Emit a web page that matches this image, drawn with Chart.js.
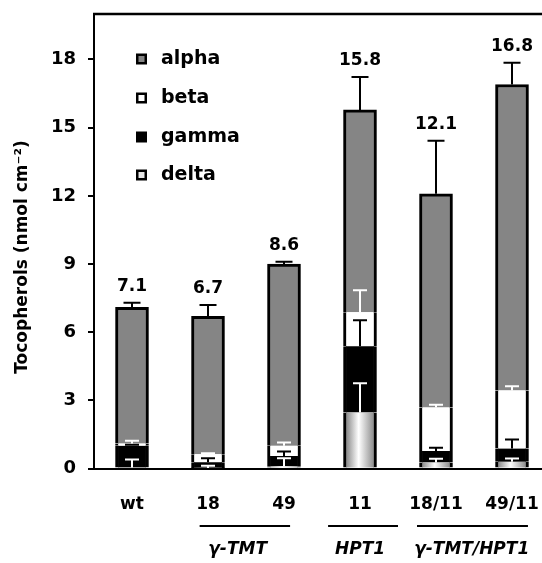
<!DOCTYPE html>
<html>
<head>
<meta charset="utf-8">
<script src="https://cdn.jsdelivr.net/npm/chart.js@4.4.0/dist/chart.umd.min.js"></script>
<style>
  html, body { margin: 0; padding: 0; background: #fff; overflow: hidden; }
  #wrap { width: 542px; height: 563px; overflow: hidden; position: relative; }
  #inner { position: absolute; left: 0; top: 0; width: 552px; height: 563px; }
</style>
</head>
<body>
<div id="wrap"><div id="inner"><canvas id="grafico"></canvas></div></div>
<script>
// categories and values (nmol cm-2), stacked bottom -> top: delta, gamma, beta, alpha
const linhas = ['wt', '18', '49', '11', '18/11', '49/11'];
const delta = [0.05, 0.03, 0.1, 2.47, 0.27, 0.3];
const gamma = [0.95, 0.25, 0.45, 2.91, 0.5, 0.58];
const beta = [0.1, 0.35, 0.45, 1.5, 1.92, 2.56];
const alpha = [6.0, 6.07, 8.0, 8.9, 9.4, 13.46];
const deltaErr = [0.35, 0.1, 0.35, 1.28, 0.16, 0.14];
const gammaErr = [0.05, 0.17, 0.2, 1.15, 0.15, 0.4];
const betaErr = [0.12, 0.05, 0.15, 0.97, 0.12, 0.18];
const alphaErr = [0.2, 0.5, 0.1, 1.45, 2.33, 0.96];
const totais = ['7.1', '6.7', '8.6', '15.8', '12.1', '16.8'];
const yTicks = [0, 3, 6, 9, 12, 15, 18];
const grupos = [
  { nome: 'γ-TMT', de: 0.89, ate: 2.08, meio: 1.39 },
  { nome: 'HPT1', de: 2.58, ate: 3.5, meio: 3.0 },
  { nome: 'γ-TMT/HPT1', de: 3.75, ate: 5.21, meio: 4.47 }
];

const FONTE = 'DejaVu Sans';
Chart.defaults.font.family = FONTE;
Chart.defaults.font.weight = 'bold';
Chart.defaults.color = '#000';

function gradDelta(c) {
  const chart = c.chart;
  if (!chart.chartArea || !chart.scales.x) return '#e0e0e0';
  const x = chart.scales.x.getPixelForValue(c.dataIndex);
  const g = chart.ctx.createLinearGradient(x - 13.5, 0, x + 13.5, 0);
  g.addColorStop(0, '#8c8c8c');
  g.addColorStop(0.45, '#ffffff');
  g.addColorStop(1, '#8f8f8f');
  return g;
}

const lados = { left: 3, right: 3, top: 0, bottom: 0 };

function semPadding(s) {
  s.paddingTop = 0; s.paddingBottom = 0; s.paddingLeft = 0; s.paddingRight = 0;
}

const extras = {
  id: 'extras',
  afterDatasetsDraw(chart) {
    const ctx = chart.ctx;
    const ys = chart.scales.y;
    const xs = chart.scales.x;
    const ca = chart.chartArea;
    const series = [delta, gamma, beta, alpha];
    const erros = [deltaErr, gammaErr, betaErr, alphaErr];

    // error bars
    linhas.forEach((l, j) => {
      const x = chart.getDatasetMeta(0).data[j].x;
      let base = 0;
      const topos = series.map(s => (base += s[j]));
      topos.forEach((topo, k) => {
        const cap = topo + erros[k][j];
        let cor = '#000';
        if (k < 3 && cap <= topos[3]) {
          // colour depends on the segment the cap sits in
          let seg = 3;
          for (let m = 0; m < 4; m++) { if (cap <= topos[m]) { seg = m; break; } }
          cor = (seg === 2) ? '#000' : '#fff';
        }
        const y0 = ys.getPixelForValue(topo);
        const y1 = ys.getPixelForValue(cap);
        const w = k === 3 ? 8.5 : 7;
        ctx.save();
        ctx.strokeStyle = cor;
        ctx.lineWidth = 2;
        ctx.beginPath();
        ctx.moveTo(x, y0);
        ctx.lineTo(x, y1);
        ctx.moveTo(x - w, y1);
        ctx.lineTo(x + w, y1);
        ctx.stroke();
        ctx.restore();
      });
      // total label
      const yl = ys.getPixelForValue(topos[3] + alphaErr[j]) - 8;
      ctx.save();
      ctx.font = 'bold 17px ' + FONTE;
      ctx.fillStyle = '#000';
      ctx.textAlign = 'center';
      ctx.textBaseline = 'bottom';
      ctx.fillText(totais[j], x, yl);
      ctx.restore();
    });

    ctx.save();
    // top frame line
    ctx.strokeStyle = '#000';
    ctx.lineWidth = 2.5;
    ctx.beginPath();
    ctx.moveTo(ca.left - 1, ca.top);
    ctx.lineTo(chart.width, ca.top);
    ctx.stroke();

    // y title
    ctx.save();
    ctx.translate(23, 257);
    ctx.rotate(-Math.PI / 2);
    ctx.font = 'bold 17px ' + FONTE;
    ctx.fillStyle = '#000';
    ctx.textAlign = 'center';
    ctx.textBaseline = 'middle';
    ctx.fillText('Tocopherols (nmol cm⁻²)', 0, 0);
    ctx.restore();

    // legend
    const nomes = ['alpha', 'beta', 'gamma', 'delta'];
    const cores = ['#858585', '#ffffff', '#000000', '#e8e8e8'];
    const ly = [59, 98, 137, 175];
    nomes.forEach((n, i) => {
      ctx.fillStyle = '#000';
      ctx.fillRect(136, ly[i] - 5.5, 11, 11);
      ctx.fillStyle = cores[i];
      ctx.fillRect(138.5, ly[i] - 3, 6, 6);
      ctx.fillStyle = '#000';
      ctx.font = 'bold 19px ' + FONTE;
      ctx.textAlign = 'left';
      ctx.textBaseline = 'middle';
      ctx.fillText(n, 161, ly[i]);
    });

    // groups under the axis
    const p0 = xs.getPixelForValue(0);
    const passo = xs.getPixelForValue(1) - p0;
    grupos.forEach(g => {
      ctx.strokeStyle = '#000';
      ctx.lineWidth = 2;
      ctx.beginPath();
      ctx.moveTo(p0 + g.de * passo, 526);
      ctx.lineTo(p0 + g.ate * passo, 526);
      ctx.stroke();
      ctx.fillStyle = '#000';
      ctx.font = 'italic bold 17px ' + FONTE;
      ctx.textAlign = 'center';
      ctx.textBaseline = 'middle';
      ctx.fillText(g.nome, p0 + g.meio * passo, 550);
    });
    ctx.restore();
  }
};

const ctx = document.getElementById('grafico').getContext('2d');
new Chart(ctx, {
  type: 'bar',
  data: {
    labels: linhas,
    datasets: [
      { label: 'delta', data: delta, backgroundColor: gradDelta, borderColor: '#000', borderWidth: lados, borderSkipped: false },
      { label: 'gamma', data: gamma, backgroundColor: '#000', borderColor: '#000', borderWidth: lados, borderSkipped: false },
      { label: 'beta', data: beta, backgroundColor: '#fff', borderColor: '#000', borderWidth: lados, borderSkipped: false },
      { label: 'alpha', data: alpha, backgroundColor: '#858585', borderColor: '#000', borderWidth: { left: 3, right: 3, top: 3, bottom: 0 }, borderSkipped: false }
    ]
  },
  options: {
    responsive: true,
    maintainAspectRatio: false,
    animation: false,
    barThickness: 33,
    layout: { padding: { top: 14, right: 2, bottom: 22, left: 0 } },
    plugins: {
      legend: { display: false },
      tooltip: { enabled: false }
    },
    scales: {
      x: {
        stacked: true,
        afterFit: semPadding,
        grid: { display: false, drawTicks: false },
        border: { color: '#000', width: 2 },
        ticks: { color: '#000', font: { size: 17, weight: 'bold' }, padding: 26 }
      },
      y: {
        stacked: true,
        min: 0,
        max: 20,
        afterBuildTicks: s => { s.ticks = yTicks.map(v => ({ value: v })); },
        afterFit: s => { s.width = 94; semPadding(s); },
        grid: { drawOnChartArea: false, color: '#000', lineWidth: 2, tickLength: 6 },
        border: { color: '#000', width: 2 },
        ticks: { color: '#000', font: { size: 18, weight: 'bold' }, padding: 12 }
      }
    }
  },
  plugins: [extras]
});
</script>
</body>
</html>
